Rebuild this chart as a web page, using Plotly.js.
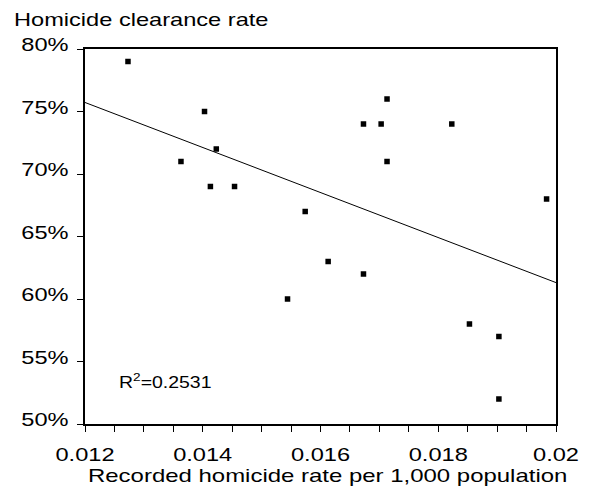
<!DOCTYPE html>
<html>
<head>
<meta charset="utf-8">
<script src="https://cdn.plot.ly/plotly-3.0.1.min.js"></script>
<style>
  html, body { margin: 0; padding: 0; background: #ffffff; }
  #chart { width: 595px; height: 489px; }
</style>
</head>
<body>
<div id="chart"></div>
<script>
// ---- data ----
var homicideRate = [0.01273, 0.01403, 0.01423, 0.01363, 0.01413, 0.01454, 0.01713, 0.01673, 0.01703, 0.01823,
                    0.01713, 0.01984, 0.01574, 0.01613, 0.01673, 0.01544, 0.01853, 0.01903, 0.01903];
var clearanceRate = [0.79, 0.75, 0.72, 0.71, 0.69, 0.69, 0.76, 0.74, 0.74, 0.74,
                     0.71, 0.68, 0.67, 0.63, 0.62, 0.60, 0.58, 0.57, 0.52];
var xRange = [0.012, 0.02];
var yRange = [0.50, 0.80];
var yTitleText = 'Homicide clearance rate';
var xTitleText = 'Recorded homicide rate per 1,000 population';
var r2Text = 'R<sup>2</sup>=0.2531';

// ---- least-squares trend line from the data ----
var n = homicideRate.length, mx = 0, my = 0;
for (var i = 0; i < n; i++) { mx += homicideRate[i]; my += clearanceRate[i]; }
mx /= n; my /= n;
var sxy = 0, sxx = 0;
for (var i = 0; i < n; i++) {
  sxy += (homicideRate[i] - mx) * (clearanceRate[i] - my);
  sxx += (homicideRate[i] - mx) * (homicideRate[i] - mx);
}
var slope = sxy / sxx, icpt = my - slope * mx;
var trendY = xRange.map(function (x) { return icpt + slope * x; });

var FONT = '"Liberation Sans", Arial, Helvetica, sans-serif';
var FS = 17.5;

var data = [
  {
    type: 'scatter', mode: 'markers', x: homicideRate, y: clearanceRate,
    marker: { symbol: 'square', size: 5.5, color: '#000000', line: { width: 0 } },
    hoverinfo: 'skip', showlegend: false
  },
  {
    type: 'scatter', mode: 'lines', x: xRange, y: trendY,
    line: { color: '#000000', width: 1 },
    hoverinfo: 'skip', showlegend: false
  }
];

function px2x(p) { return (p - 85) / 471; }
function px2y(p) { return (424 - p) / 375; }

var layout = {
  width: 595, height: 489,
  margin: { l: 85, r: 39, t: 49, b: 65, pad: 0 },
  paper_bgcolor: '#ffffff', plot_bgcolor: '#ffffff',
  font: { family: FONT, size: FS, color: '#000000' },
  showlegend: false,
  xaxis: {
    range: xRange, dtick: 0.002, tick0: 0.012,
    showgrid: false, zeroline: false,
    showline: true, mirror: true, linecolor: '#000000', linewidth: 2,
    ticks: 'outside', ticklen: 6, tickwidth: 1, tickcolor: '#000000',
    minor: { dtick: 0.0005, ticks: 'outside', ticklen: 6, tickwidth: 1, tickcolor: '#000000', showgrid: false },
    tickfont: { family: FONT, size: FS, color: '#000000' },
    ticklabelstandoff: 8
  },
  yaxis: {
    range: yRange, dtick: 0.05, tick0: 0.5, tickformat: '.0%',
    showgrid: false, zeroline: false,
    showline: true, mirror: true, linecolor: '#000000', linewidth: 2,
    ticks: 'outside', ticklen: 6, tickwidth: 1, tickcolor: '#000000',
    tickfont: { family: FONT, size: FS, color: '#000000' },
    ticklabelstandoff: 5,
    ticklabelshift: -4
  },
  annotations: [
    { text: yTitleText, xref: 'paper', yref: 'paper', x: px2x(12), y: px2y(20),
      xanchor: 'left', yanchor: 'middle', align: 'left', showarrow: false,
      font: { family: FONT, size: FS, color: '#000000' } },
    { text: xTitleText, xref: 'paper', yref: 'paper', x: px2x(86), y: px2y(476),
      xanchor: 'left', yanchor: 'middle', align: 'left', showarrow: false,
      font: { family: FONT, size: FS, color: '#000000' } },
    { text: r2Text, xref: 'paper', yref: 'paper', x: px2x(117), y: px2y(381),
      xanchor: 'left', yanchor: 'middle', align: 'left', showarrow: false,
      font: { family: FONT, size: 16.5, color: '#000000' } }
  ]
};

Plotly.newPlot('chart', data, layout, { staticPlot: true, displayModeBar: false }).then(function (gd) {
  // the reference's lettering is horizontally widened; stretch each text about its anchor
  gd.querySelectorAll('svg text').forEach(function (t) {
    var s = t.textContent;
    if (!s) return;
    var S = 1.35;
    if (s.indexOf('0.2531') >= 0) S = 1.18;
    else if (s === xTitleText) S = 1.37;
    var bb = t.getBBox();
    var a = t.getAttribute('text-anchor') || 'start';
    var cx = a === 'middle' ? bb.x + bb.width / 2 : (a === 'end' ? bb.x + bb.width : bb.x);
    var tr = t.getAttribute('transform') || '';
    t.setAttribute('transform', tr + ' translate(' + cx + ',0) scale(' + S + ',1) translate(' + (-cx) + ',0)');
  });
});
</script>
</body>
</html>
